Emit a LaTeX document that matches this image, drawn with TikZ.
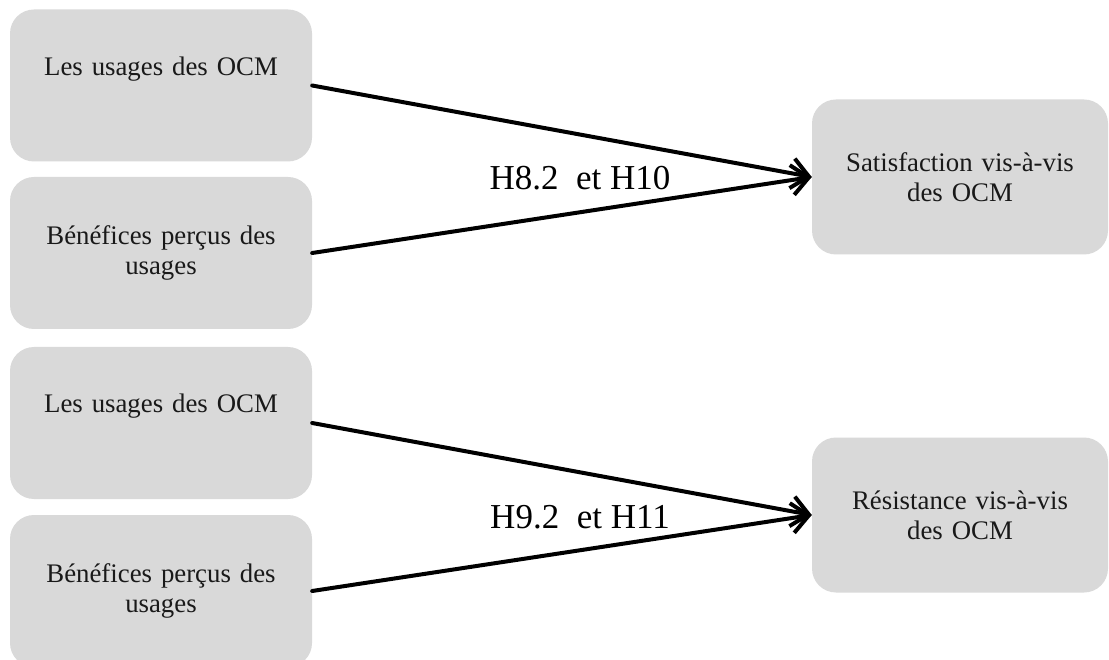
\documentclass[tikz,border=0pt]{standalone}
\usepackage{fontspec}
\setmainfont{Liberation Serif}
\usetikzlibrary{arrows.meta}
\definecolor{boxgray}{HTML}{D9D9D9}
\begin{document}
\begin{tikzpicture}[x=1pt,y=-1pt,
  box/.style={fill=boxgray, rounded corners=24pt, minimum width=302pt,
    minimum height=152pt, inner sep=0pt, text width=290pt, align=center,
    font=\fontsize{26.8}{30}\selectfont, text=black!90},
  rbox/.style={box, minimum width=296pt, minimum height=155pt, text width=280pt},
  link/.style={line width=4pt, line cap=round,
    -{Straight Barb[length=17pt,width=30pt,line width=4pt]}},
  hyp/.style={font=\fontsize{35}{40}\selectfont, inner sep=0pt}]
\useasboundingbox (0,0) rectangle (1109,660);
\clip (0,0) rectangle (1109,660);
\fill[white] (0,0) rectangle (1109,660);

% upper model: satisfaction
\node[box] (u1) at (161,85.5) {Les usages des OCM\\\strut};
\node[box] (b1) at (161,253) {Bénéfices perçus des\\usages};
\node[rbox] (sat) at (960,177) {Satisfaction vis-à-vis\\des OCM};
\draw[link] (u1.east) -- (sat.west);
\draw[link] (b1.east) -- (sat.west);
\node[hyp] (h1) at (580,178) {H8.2\ \ et H10};

% lower model: resistance
\node[box] (u2) at (161,423) {Les usages des OCM\\\strut};
\node[box] (b2) at (161,591) {Bénéfices perçus des\\usages};
\node[rbox] (res) at (960,515) {Résistance vis-à-vis\\des OCM};
\draw[link] (u2.east) -- (res.west);
\draw[link] (b2.east) -- (res.west);
\node[hyp] (h2) at (580,517) {H9.2\ \ et H11};
\end{tikzpicture}
\end{document}
